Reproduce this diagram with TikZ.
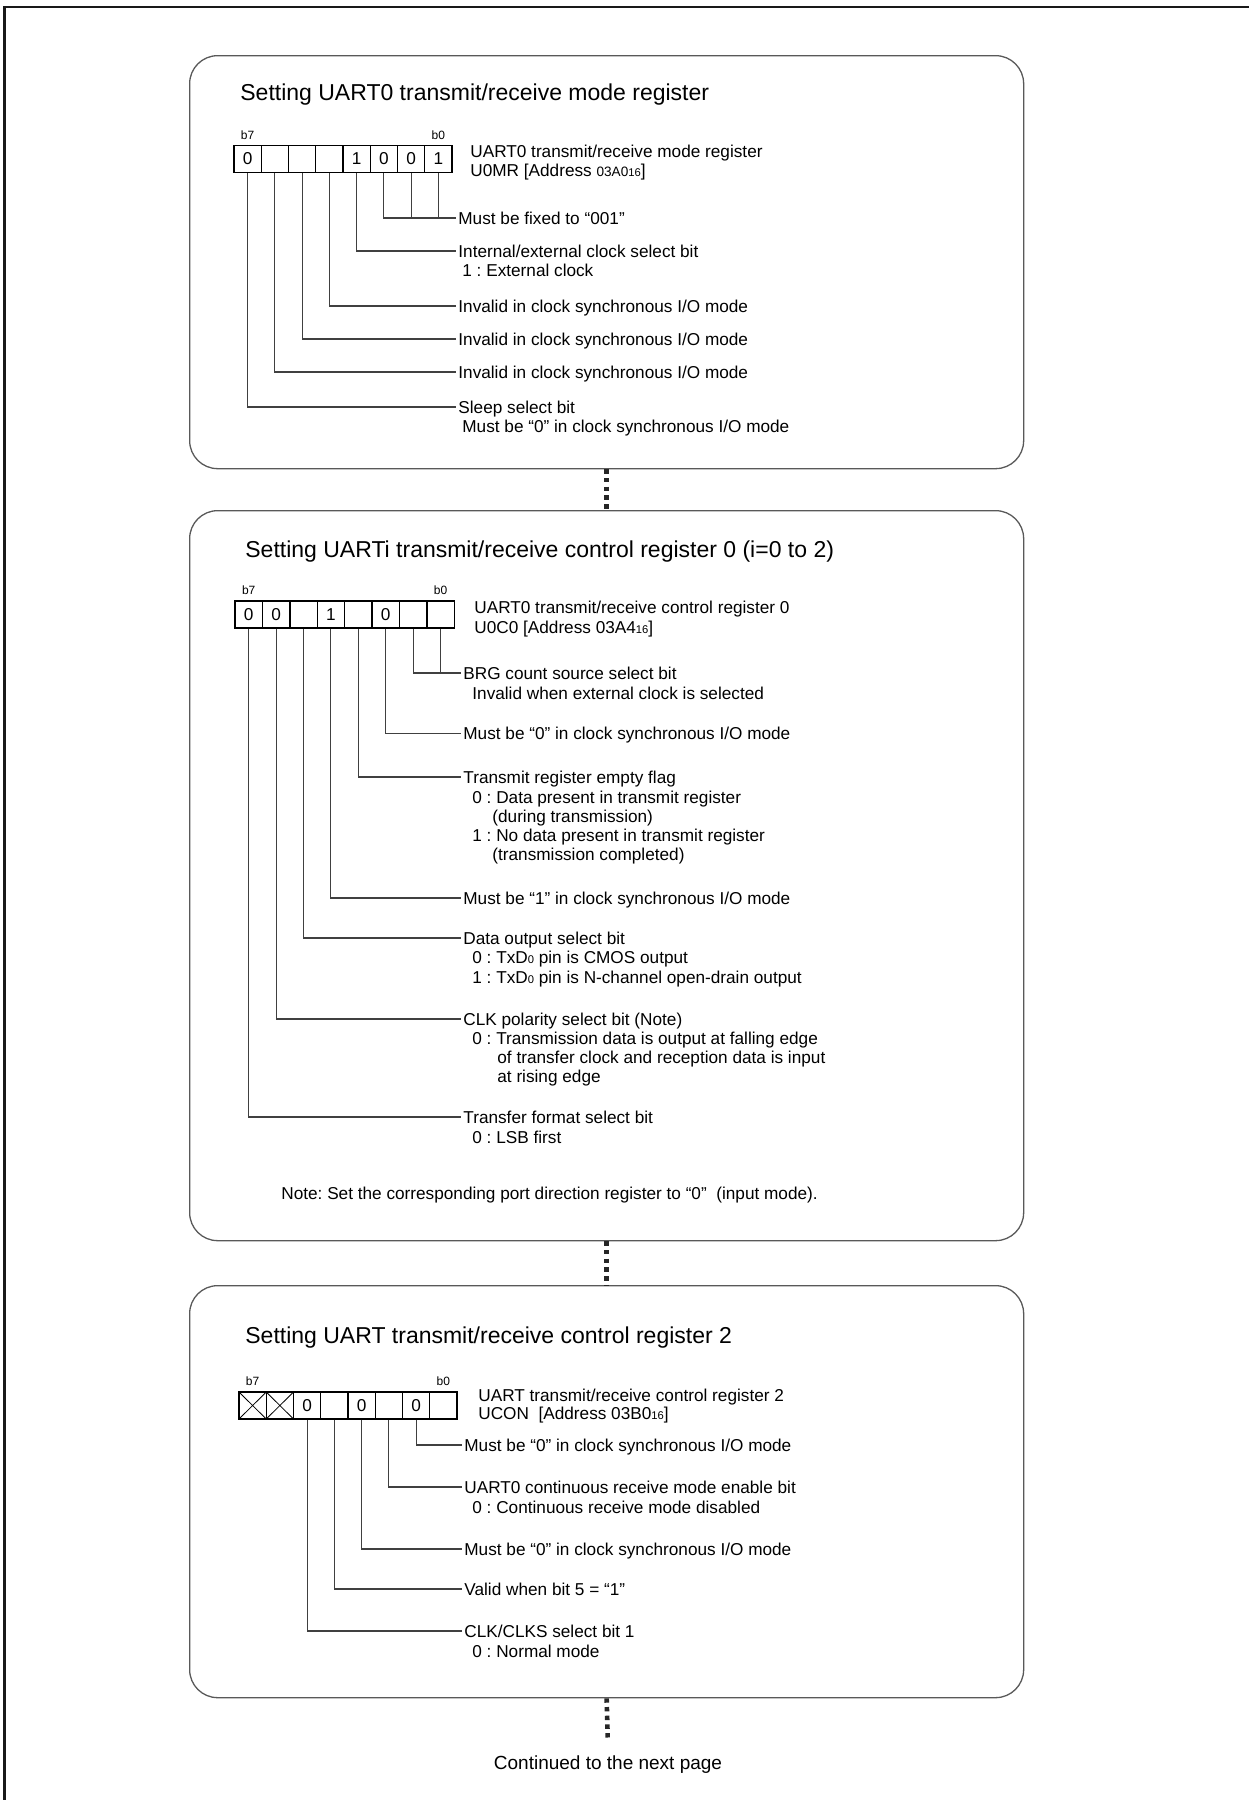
\documentclass[tikz,border=0pt]{standalone}
\usepackage{fontspec}
\setmainfont{Liberation Sans}
\usetikzlibrary{positioning}

\newcommand\regsub[1]{{\fontsize{5.6pt}{6pt}\selectfont #1}}
\frenchspacing

\begin{document}
\begin{tikzpicture}[
    x=0.5pt, y=-0.5pt,
    font=\fontsize{8.6pt}{10pt}\selectfont,
    % Define Styles
    frame/.style={line width=1.2pt, black!90},
    panel/.style={rectangle, draw=black!65, line width=0.65pt, rounded corners=14pt, minimum width=417pt, anchor=north west},
    heading/.style={anchor=west, inner sep=0pt, font=\fontsize{11.5pt}{13pt}\selectfont},
    bitcell/.style={rectangle, draw, line width=0.65pt, minimum width=13.65pt, minimum height=13.5pt, inner sep=0pt},
    xcell/.style={bitcell, path picture={\draw[line width=0.4pt] (path picture bounding box.north west) -- (path picture bounding box.south east) (path picture bounding box.north east) -- (path picture bounding box.south west);}},
    bitno/.style={inner sep=0pt, font=\fontsize{6pt}{7pt}\selectfont},
    desc/.style={anchor=west, inner xsep=1pt, inner ysep=0pt, text height=6.2pt, text depth=0pt},
    lead/.style={draw=black!75, line width=0.55pt},
    vdots/.style={line width=2.3pt, black!85, dash pattern=on 2.2pt off 2.15pt}
  ]
  \useasboundingbox (0,0) rectangle (1249,1800);
  \draw[frame] (4.5,1800) -- (4.5,7) -- (1249,7);

  % --- PANELS ---
  \node[panel, minimum height=206.5pt] (p1) at (189,55) {};
  \node[panel, minimum height=365pt] (p2) at (189,510) {};
  \node[panel, minimum height=206pt] (p3) at (189,1285) {};

  \draw[vdots] (p1.south) -- (p2.north);
  \draw[vdots] (p2.south) -- (p3.north);

  % --- PANEL 1: U0MR ---
  \node[heading] (t1) at (240,95) {Setting UART0 transmit/receive mode register};

  \foreach \v [count=\i, evaluate=\i as \b using {int(8-\i)}] in {0,{},{},{},1,0,0,1}
    \node[bitcell] (mr\b) at ({234+27.25*(\i-0.5)},159) {\v};
  \node[bitno, above=2.5pt of mr7] {b7};
  \node[bitno, above=2.5pt of mr0] {b0};

  \node[desc] (mrname) at (468,151) {UART0 transmit/receive mode register};
  \node[desc] (mraddr) at (468,170) {U0MR [Address {\fontsize{6.8pt}{7pt}\selectfont 03A0}\regsub{16}]};

  \node[desc] (mrfix) at (456,218) {Must be fixed to “001”};
  \node[desc] (mrclk) at (456,251) {Internal/external clock select bit};
  \node[desc] at (460,270) {1 : External clock};
  \node[desc] (mrinv4) at (456,306) {Invalid in clock synchronous I/O mode};
  \node[desc] (mrinv5) at (456,339) {Invalid in clock synchronous I/O mode};
  \node[desc] (mrinv6) at (456,372) {Invalid in clock synchronous I/O mode};
  \node[desc] (mrslp) at (456,407) {Sleep select bit};
  \node[desc] at (460,426) {Must be “0” in clock synchronous I/O mode};

  \draw[lead] (mr2.south) |- (mrfix.west);
  \draw[lead] (mr1.south) -- (mr1.south |- mrfix.west);
  \draw[lead] (mr0.south) -- (mr0.south |- mrfix.west);
  \draw[lead] (mr3.south) |- (mrclk.west);
  \foreach \b/\d in {4/mrinv4, 5/mrinv5, 6/mrinv6, 7/mrslp}
    \draw[lead] (mr\b.south) |- (\d.west);

  % --- PANEL 2: U0C0 ---
  \node[heading] (t2) at (245,552) {Setting UARTi transmit/receive control register 0 (i=0 to 2)};

  \foreach \v [count=\i, evaluate=\i as \b using {int(8-\i)}] in {0,0,{},1,{},0,{},{}}
    \node[bitcell] (cr\b) at ({235+27.4*(\i-0.5)},614.5) {\v};
  \node[bitno, above=2.5pt of cr7] {b7};
  \node[bitno, above=2.5pt of cr0] {b0};

  \node[desc] (crname) at (472,607.5) {UART0 transmit/receive control register 0};
  \node[desc] (craddr) at (472,627) {U0C0 [Address 03A4\regsub{16}]};

  \node[desc] (crbrg) at (461,673) {BRG count source select bit};
  \node[desc] at (470,693) {Invalid when external clock is selected};
  \node[desc] (crm0) at (461,733.5) {Must be “0” in clock synchronous I/O mode};
  \node[desc] (crtxe) at (461,777) {Transmit register empty flag};
  \node[desc] at (470,797) {0 : Data present in transmit register};
  \node[desc] at (490,816) {(during transmission)};
  \node[desc] at (470,835) {1 : No data present in transmit register};
  \node[desc] at (490,854.5) {(transmission completed)};
  \node[desc] (crm1) at (461,898) {Must be “1” in clock synchronous I/O mode};
  \node[desc] (crdout) at (461,938) {Data output select bit};
  \node[desc] at (470,957) {0 : TxD\regsub{0} pin is CMOS output};
  \node[desc] at (470,977) {1 : TxD\regsub{0} pin is N-channel open-drain output};
  \node[desc] (crckp) at (461,1019) {CLK polarity select bit (Note)};
  \node[desc] at (470,1038) {0 : Transmission data is output at falling edge};
  \node[desc] at (495,1057) {of transfer clock and reception data is input};
  \node[desc] at (495,1076) {at rising edge};
  \node[desc] (crfmt) at (461,1117) {Transfer format select bit};
  \node[desc] at (470,1137) {0 : LSB first};
  \node[desc] (crnote) at (279,1193) {Note: Set the corresponding port direction register to “0”\ \ (input mode).};

  \draw[lead] (cr1.south) |- (crbrg.west);
  \draw[lead] (cr0.south) -- (cr0.south |- crbrg.west);
  \foreach \b/\d in {2/crm0, 3/crtxe, 4/crm1, 5/crdout, 6/crckp, 7/crfmt}
    \draw[lead] (cr\b.south) |- (\d.west);

  % --- PANEL 3: UCON ---
  \node[heading] (t3) at (245,1338) {Setting UART transmit/receive control register 2};

  \node[xcell] (uc7) at ({239+27.25*0.5},1405.5) {};
  \node[xcell] (uc6) at ({239+27.25*1.5},1405.5) {};
  \foreach \v [count=\i, evaluate=\i as \b using {int(6-\i)}] in {0,{},0,{},0,{}}
    \node[bitcell] (uc\b) at ({239+27.25*(\i+1.5)},1405.5) {\v};
  \node[bitno, above=2.5pt of uc7] {b7};
  \node[bitno, above=2.5pt of uc0] {b0};

  \node[desc] (ucname) at (476,1395) {UART transmit/receive control register 2};
  \node[desc] (ucaddr) at (476,1413) {UCON\ \ [Address 03B0\regsub{16}]};

  \node[desc] (ucm0a) at (462,1445) {Must be “0” in clock synchronous I/O mode};
  \node[desc] (uccont) at (462,1487) {UART0 continuous receive mode enable bit};
  \node[desc] at (470,1507) {0 : Continuous receive mode disabled};
  \node[desc] (ucm0b) at (462,1549) {Must be “0” in clock synchronous I/O mode};
  \node[desc] (ucvalid) at (462,1589) {Valid when bit 5 = “1”};
  \node[desc] (ucclks) at (462,1631) {CLK/CLKS select bit 1};
  \node[desc] at (470,1651) {0 : Normal mode};

  \foreach \b/\d in {1/ucm0a, 2/uccont, 3/ucm0b, 4/ucvalid, 5/ucclks}
    \draw[lead] (uc\b.south) |- (\d.west);

  % --- CONTINUATION ---
  \node[font=\fontsize{9.5pt}{11pt}\selectfont] (next) at (608,1765) {Continued to the next page};
  \draw[vdots, shorten >=4.5pt] (p3.south) -- (next.north);
\end{tikzpicture}
\end{document}
